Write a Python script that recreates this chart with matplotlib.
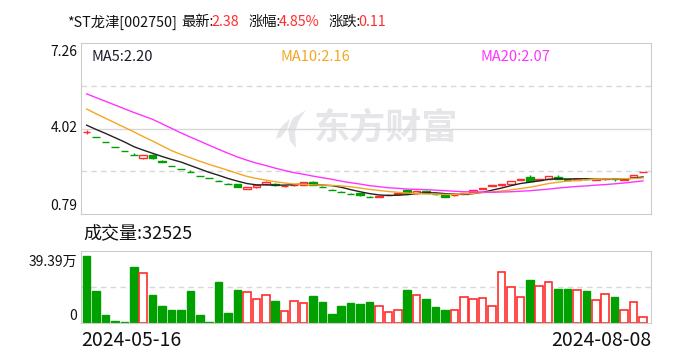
import matplotlib
matplotlib.use("Agg")
import matplotlib.pyplot as plt
from matplotlib.patches import Polygon
import numpy as np

plt.rcParams['font.family'] = ['Noto Sans CJK SC', 'DejaVu Sans']

# daily K-line 2024-05-16 .. 2024-08-08 (60 sessions)
date_first = "2024-05-16"
date_last = "2024-08-08"

opens = [3.88, 3.69, 3.51, 3.33, 3.17, 3.01, 2.90, 3.03, 2.81, 2.62,
         2.49, 2.37, 2.25, 2.14, 2.03, 1.93, 1.92, 1.74, 1.81, 1.92,
         1.95, 1.84, 1.88, 1.91, 2.01, 1.83, 1.72, 1.63, 1.57, 1.58,
         1.45, 1.45, 1.51, 1.55, 1.69, 1.58, 1.67, 1.57, 1.52, 1.50,
         1.55, 1.62, 1.76, 1.85, 1.90, 1.94, 2.08, 2.21, 2.08, 2.13,
         2.18, 2.12, 2.09, 2.12, 2.10, 2.11, 2.13, 2.10, 2.18, 2.38]
closes = [3.88, 3.69, 3.51, 3.33, 3.17, 3.01, 3.03, 2.90, 2.76, 2.62,
          2.49, 2.37, 2.25, 2.14, 2.03, 1.93, 1.83, 1.82, 1.91, 1.99,
          1.89, 1.86, 1.90, 2.00, 1.90, 1.81, 1.72, 1.63, 1.55, 1.50,
          1.43, 1.47, 1.53, 1.61, 1.60, 1.65, 1.59, 1.54, 1.46, 1.53,
          1.60, 1.70, 1.79, 1.88, 1.92, 2.04, 2.12, 2.05, 2.12, 2.22,
          2.12, 2.10, 2.11, 2.11, 2.12, 2.13, 2.11, 2.12, 2.27, 2.38]
highs = [3.96, 3.71, 3.53, 3.33, 3.17, 3.11, 3.04, 3.05, 2.84, 2.62,
         2.49, 2.46, 2.25, 2.14, 2.10, 1.97, 1.93, 1.83, 1.91, 2.06,
         1.97, 1.88, 1.92, 2.01, 2.05, 1.84, 1.76, 1.66, 1.59, 1.59,
         1.49, 1.48, 1.54, 1.62, 1.72, 1.66, 1.68, 1.58, 1.53, 1.54,
         1.61, 1.71, 1.80, 1.89, 1.95, 2.05, 2.13, 2.26, 2.13, 2.23,
         2.27, 2.13, 2.12, 2.17, 2.15, 2.17, 2.15, 2.13, 2.27, 2.38]
lows = [3.80, 3.69, 3.51, 3.33, 3.17, 3.01, 2.86, 2.89, 2.75, 2.62,
        2.49, 2.37, 2.25, 2.14, 2.03, 1.93, 1.83, 1.74, 1.80, 1.90,
        1.87, 1.81, 1.86, 1.90, 1.89, 1.81, 1.72, 1.63, 1.54, 1.49,
        1.43, 1.43, 1.50, 1.54, 1.58, 1.57, 1.58, 1.52, 1.45, 1.49,
        1.54, 1.61, 1.73, 1.84, 1.87, 1.93, 2.07, 2.03, 2.07, 2.12,
        2.11, 2.09, 2.07, 2.08, 2.09, 2.10, 2.06, 2.09, 2.17, 2.38]

ma5 = [4.15, 3.99, 3.84, 3.68, 3.52, 3.34, 3.21, 3.09, 2.97, 2.86,
       2.76, 2.63, 2.50, 2.37, 2.26, 2.14, 2.04, 1.95, 1.90, 1.90,
       1.89, 1.89, 1.91, 1.93, 1.91, 1.89, 1.87, 1.81, 1.72, 1.64,
       1.57, 1.52, 1.50, 1.51, 1.53, 1.57, 1.60, 1.60, 1.57, 1.55,
       1.54, 1.57, 1.62, 1.70, 1.78, 1.87, 1.95, 2.00, 2.05, 2.11,
       2.13, 2.12, 2.13, 2.13, 2.11, 2.11, 2.12, 2.12, 2.15, 2.20]
ma10 = [4.76, 4.58, 4.41, 4.24, 4.07, 3.90, 3.72, 3.55, 3.37, 3.19,
        3.05, 2.92, 2.79, 2.67, 2.56, 2.45, 2.33, 2.22, 2.14, 2.08,
        2.02, 1.97, 1.93, 1.92, 1.90, 1.89, 1.88, 1.86, 1.83, 1.78,
        1.73, 1.69, 1.65, 1.62, 1.59, 1.57, 1.56, 1.55, 1.54, 1.54,
        1.56, 1.58, 1.61, 1.63, 1.67, 1.71, 1.76, 1.81, 1.88, 1.95,
        2.00, 2.04, 2.07, 2.09, 2.11, 2.12, 2.12, 2.13, 2.14, 2.16]
ma20 = [5.33, 5.19, 5.05, 4.91, 4.77, 4.63, 4.50, 4.37, 4.20, 4.03,
        3.86, 3.70, 3.55, 3.39, 3.24, 3.09, 2.95, 2.83, 2.72, 2.63,
        2.53, 2.44, 2.36, 2.30, 2.23, 2.17, 2.11, 2.04, 1.98, 1.93,
        1.87, 1.83, 1.79, 1.77, 1.74, 1.73, 1.72, 1.70, 1.68, 1.66,
        1.64, 1.64, 1.63, 1.62, 1.63, 1.64, 1.66, 1.68, 1.71, 1.74,
        1.78, 1.81, 1.84, 1.86, 1.89, 1.91, 1.94, 1.97, 2.01, 2.05]

# volume in 万
volumes = [39.39, 18.71, 4.53, 0.98, 0.39, 32.89, 29.15, 16.35, 9.85, 7.48,
           7.48, 18.71, 4.53, 0.39, 24.03, 5.71, 19.30, 17.92, 13.79, 16.15,
           12.80, 6.70, 12.60, 11.42, 15.76, 12.21, 5.12, 9.85, 11.62, 11.03,
           12.21, 9.65, 6.11, 7.29, 19.30, 16.15, 13.98, 9.26, 7.48, 7.29,
           14.97, 13.79, 14.38, 9.65, 29.74, 20.88, 14.97, 25.21, 21.47, 23.83,
           19.89, 19.89, 19.10, 18.71, 13.20, 16.74, 15.17, 7.29, 12.01, 3.25]
vol_up = "GGGGGGRGGGGGGGGGGRRRGRRRGGGGGGGRRRGRGGGRRRRRRRRGRRGGRGRRGRRR"

RED = '#ff2d2d'
GREEN = '#00a000'
GRID = '#d8d8d8'

W, H = 688, 360
fig = plt.figure(figsize=(W / 100, H / 100), dpi=100)


def fx(px):
    return px / W


def fy(py):
    return 1 - py / H


ax = fig.add_axes([fx(81), fy(214.3), fx(651 - 81), fy(42.7) - fy(214.3)])
axv = fig.add_axes([fx(81), fy(322.7), fx(651 - 81), fy(251.5) - fy(322.7)])

n = len(closes)
x = np.arange(n)
bw = 0.8

# candle colours: up/down by open-close, flat ones by previous close
up = []
for i in range(n):
    if closes[i] != opens[i]:
        up.append(closes[i] > opens[i])
    else:
        up.append(i == 0 or closes[i] >= closes[i - 1])

for i in range(n):
    c = RED if up[i] else GREEN
    ax.vlines(x[i], lows[i], highs[i], color=c, lw=1, zorder=3)
    lo = min(opens[i], closes[i])
    hgt = abs(closes[i] - opens[i])
    if up[i]:
        ax.bar(x[i], hgt, bw, bottom=lo, facecolor='white', edgecolor=RED, lw=1, zorder=4)
    else:
        ax.bar(x[i], hgt, bw, bottom=lo, facecolor=GREEN, edgecolor=GREEN, lw=1, zorder=4)

ax.plot(x, ma5, color='#222222', lw=1, zorder=5)
ax.plot(x, ma10, color='#f5a623', lw=1, zorder=5)
ax.plot(x, ma20, color='#ff33ff', lw=1, zorder=5)

ax.set_xlim(-0.6, n - 1 + 0.85)
ax.set_ylim(0.79, 7.26)
ax.axhline(4.02, color=GRID, lw=1, zorder=1)
for yv in (2.405, 5.64):
    ax.axhline(yv, color=GRID, lw=1, ls=(0, (4, 3)), zorder=1)
ax.set_xticks([])
ax.set_yticks([])
for s in ax.spines.values():
    s.set_color('#cccccc')

# watermark (logo + name), under the grid lines
WM = '#e6e6ea'
ax.text(fx(386), fy(128), "东方财富", transform=fig.transFigure, fontsize=26,
        fontweight='bold', color=WM, ha='center', va='center', zorder=0.5)
leaf_big = [(306, 110), (299, 120), (295, 132), (296, 148), (290, 141),
            (288, 129), (293, 118)]
leaf_small = [(290, 119), (283, 125), (278, 132), (276, 139), (281, 137), (287, 129)]
for pts in (leaf_big, leaf_small):
    ax.add_patch(Polygon([(fx(a), fy(b)) for a, b in pts], closed=True,
                         transform=fig.transFigure, facecolor=WM, edgecolor='none',
                         zorder=0.5))

for i in range(n):
    if vol_up[i] == 'R':
        axv.bar(x[i], volumes[i], bw, facecolor='white', edgecolor=RED, lw=1.2)
    else:
        axv.bar(x[i], volumes[i], bw, facecolor=GREEN, edgecolor=GREEN, lw=1)
axv.set_xlim(-0.6, n - 1 + 0.85)
axv.set_ylim(0, 42.15)
axv.axhline(21.07, color=GRID, lw=1, ls=(0, (4, 3)), zorder=0)
axv.set_xticks([])
axv.set_yticks([])
for s in axv.spines.values():
    s.set_color('#cccccc')

# header
hy = fy(22)
hs = 10.3
fig.text(fx(66.7), hy, "*ST龙津[002750]", fontsize=hs, va='center', color='#111111')
fig.text(fx(181), hy, "最新:", fontsize=hs, va='center', color='#111111')
fig.text(fx(211.3), hy, "2.38", fontsize=hs, va='center', color=RED)
fig.text(fx(248.3), hy, "涨幅:", fontsize=hs, va='center', color='#111111')
fig.text(fx(278.7), hy, "4.85%", fontsize=hs, va='center', color=RED)
fig.text(fx(328.3), hy, "涨跌:", fontsize=hs, va='center', color='#111111')
fig.text(fx(358.3), hy, "0.11", fontsize=hs, va='center', color=RED)

# MA labels
fig.text(fx(91), fy(57), "MA5:2.20", fontsize=10.5, va='center', color='#1a1a2a')
fig.text(fx(280), fy(57), "MA10:2.16", fontsize=10.5, va='center', color='#f5a623')
fig.text(fx(480.7), fy(57), "MA20:2.07", fontsize=10.5, va='center', color='#ff33ff')

# price labels
for lab, py in (("7.26", 52.3), ("4.02", 128.3), ("0.79", 205.7)):
    fig.text(fx(77.3), fy(py), lab, fontsize=10, ha='right', va='center', color='#111111')

fig.text(fx(83), fy(233.3), "成交量:32525", fontsize=13, va='center', color='#111111')
fig.text(fx(77.3), fy(261.7), "39.39万", fontsize=10, ha='right', va='center', color='#111111')
fig.text(fx(77.3), fy(316), "0", fontsize=10, ha='right', va='center', color='#111111')

fig.text(fx(81.5), fy(341), date_first, fontsize=14, va='center', color='#111111')
fig.text(fx(651), fy(341), date_last, fontsize=14, ha='right', va='center', color='#111111')

fig.savefig("out.png", dpi=100)
